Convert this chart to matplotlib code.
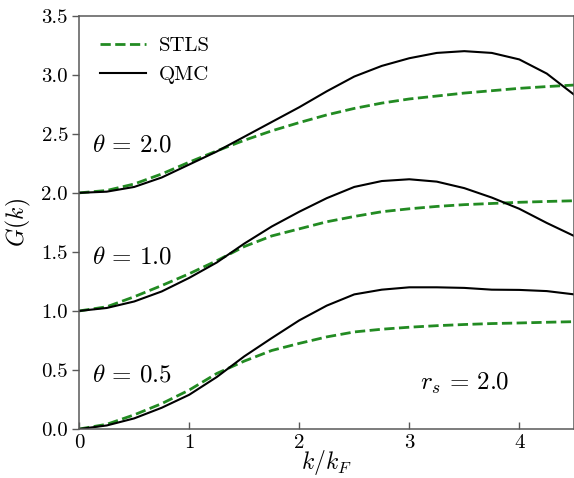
import numpy as np
import matplotlib
matplotlib.use("Agg")
from matplotlib import pyplot as plt

plt.rcParams['font.family'] = 'serif'
plt.rcParams['font.serif'] = ['cmr10', 'DejaVu Serif']
plt.rcParams['mathtext.fontset'] = 'cm'
plt.rcParams['axes.formatter.use_mathtext'] = True

# k/k_F grid
k = [0.0, 0.25, 0.5, 0.75, 1.0, 1.25, 1.5, 1.75, 2.0, 2.25,
     2.5, 2.75, 3.0, 3.25, 3.5, 3.75, 4.0, 4.25, 4.5]

# STLS, theta = 2.0 / 1.0 / 0.5
stls_t20 = [2.0, 2.02, 2.075, 2.16, 2.26, 2.355, 2.445, 2.525, 2.595, 2.66,
            2.715, 2.76, 2.795, 2.82, 2.845, 2.865, 2.885, 2.90, 2.913]
stls_t10 = [1.0, 1.035, 1.12, 1.215, 1.315, 1.425, 1.545, 1.635, 1.695, 1.755,
            1.80, 1.84, 1.865, 1.885, 1.90, 1.91, 1.92, 1.927, 1.933]
stls_t05 = [0.0, 0.04, 0.12, 0.215, 0.33, 0.47, 0.575, 0.665, 0.725, 0.78,
            0.822, 0.845, 0.862, 0.875, 0.885, 0.893, 0.898, 0.904, 0.909]

# QMC, theta = 2.0 / 1.0 / 0.5
qmc_t20 = [2.0, 2.01, 2.05, 2.13, 2.24, 2.35, 2.475, 2.60, 2.725, 2.86,
           2.985, 3.075, 3.14, 3.185, 3.20, 3.185, 3.13, 3.01, 2.83]
qmc_t10 = [1.0, 1.025, 1.08, 1.165, 1.28, 1.41, 1.57, 1.715, 1.84, 1.955,
           2.05, 2.10, 2.115, 2.095, 2.04, 1.96, 1.865, 1.745, 1.634]
qmc_t05 = [0.0, 0.03, 0.09, 0.18, 0.29, 0.44, 0.615, 0.77, 0.92, 1.045,
           1.14, 1.18, 1.20, 1.20, 1.195, 1.18, 1.178, 1.168, 1.14]

theta_labels = [r'$\theta\,=\,2.0$', r'$\theta\,=\,1.0$', r'$\theta\,=\,0.5$']
theta_label_y = [2.35, 1.40, 0.40]

fig = plt.figure(figsize=(5.74, 4.78), dpi=100)
ax = fig.add_axes([0.138, 0.1025, 0.8625, 0.8646])

green = '#228b22'
for i, (s, q) in enumerate([(stls_t20, qmc_t20), (stls_t10, qmc_t10), (stls_t05, qmc_t05)]):
    ax.plot(k, s, '--', color=green, lw=2.0, label='STLS' if i == 0 else None)
    ax.plot(k, q, '-', color='black', lw=1.5, label='QMC' if i == 0 else None)

for lab, y in zip(theta_labels, theta_label_y):
    ax.text(0.12, y, lab, fontsize=18, va='baseline', ha='left')
ax.text(3.1, 0.33, r'$r_s\,=\,2.0$', fontsize=18, va='baseline', ha='left')

ax.set_xlim(0, 4.5)
ax.set_ylim(0, 3.5)
ax.set_xticks([0, 1, 2, 3, 4])
ax.set_yticks(np.arange(0, 3.51, 0.5))
ax.set_yticklabels(['0.0', '0.5', '1.0', '1.5', '2.0', '2.5', '3.0', '3.5'])
ax.set_xticklabels(['0', '1', '2', '3', '4'])

for sp in ax.spines.values():
    sp.set_color('0.35')
    sp.set_linewidth(1.1)
ax.tick_params(axis='x', direction='in', length=5, width=1, color='0.35',
               labelsize=15, pad=4)
ax.tick_params(axis='y', direction='out', length=5, width=1, color='0.35',
               labelsize=15, pad=3)

ax.set_xlabel(r'$k/k_F$', fontsize=17, labelpad=-3)
ax.set_ylabel(r'$G(k)$', fontsize=17, labelpad=6)

ax.legend(loc='upper left', frameon=False, fontsize=15, handlelength=2.2,
          handletextpad=0.6, borderaxespad=0.6, labelspacing=0.5)

plt.savefig('out.png', dpi=100)
plt.close()
